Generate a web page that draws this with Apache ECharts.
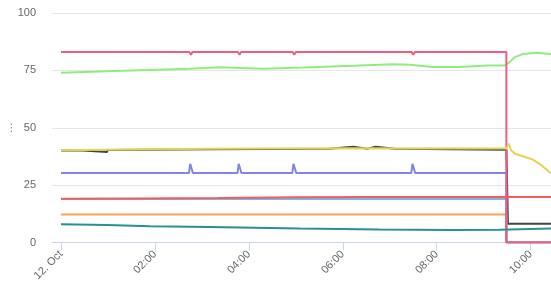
<!DOCTYPE html>
<html>
<head>
<meta charset="utf-8">
<script src="https://cdn.jsdelivr.net/npm/echarts@6/dist/echarts.min.js"></script>
<style>
html,body{margin:0;padding:0;background:#fff;}
#chart{width:551px;height:296px;}
</style>
</head>
<body>
<div id="chart"></div>
<script>
// x values are minutes after 12. Oct 00:00
var tickMinutes = [0, 120, 240, 360, 480, 600];
var yTicks = [0, 25, 50, 75, 100];

var lightBlue = [[0,19.0],[569,19.0],[569,0],[626,0]];
var dark = [[0,40.05],[28,40.1],[28,39.4],[59,39.4],[59,40.3],[190,40.6],[343,40.9],[343.5,41.7],[373,41.7],[373.5,40.9],[392,40.9],[392.5,41.7],[402,41.7],[402.5,40.9],[426,40.9],[426.5,40.4],[569,40.4],[571,8.2],[626,8.2]];
var green = [[0,74.0],[59,74.6],[101,75.1],[165,75.7],[203,76.4],[258,75.7],[309,76.2],[373,77.0],[424,77.7],[446,77.5],[475,76.5],[509,76.5],[544,77.1],[567,77.1],[573,78.6],[580,80.8],[589,82.0],[600,82.5],[608,82.7],[618,82.4],[626,82.1]];
var orange = [[0,12.2],[164,12.2],[166,12.8],[168,12.2],[226,12.2],[228,12.8],[230,12.2],[296,12.2],[298,12.8],[300,12.2],[569,12.2],[569,0],[626,0]];
var purple = [[0,30.3],[163.5,30.3],[165,34.3],[167,34.3],[168.5,30.3],[225.5,30.3],[227,34.3],[229,34.3],[230.5,30.3],[295.5,30.3],[297,34.3],[299,34.3],[300.5,30.3],[447.5,30.3],[449,34.3],[451,34.3],[452.5,30.3],[569,30.3],[569,0],[626,0]];
var pink = [[0,83.0],[164,83.0],[166,81.8],[168,83.0],[226,83.0],[228,81.8],[230,83.0],[296,83.0],[298,81.8],[300,83.0],[448,83.0],[450,81.8],[452,83.0],[569,83.0],[569,0],[626,0]];
var yellow = [[0,40.2],[90,40.5],[190,40.8],[350,41.1],[569,41.0],[572,43.1],[575,40.2],[580,38.7],[590,37.6],[603,36.1],[614,33.6],[624,30.7],[626,30.4]];
var teal = [[0,7.9],[59,7.6],[114,7.1],[190,6.7],[305,6.1],[407,5.7],[497,5.4],[560,5.6],[626,6.1]];
var red = [[0,19.1],[100,19.2],[200,19.4],[300,19.7],[400,19.8],[626,19.8]];

var seriesList = [
  {data: lightBlue, color: '#7cb5ec'},
  {data: dark, color: '#434348'},
  {data: green, color: '#90ed7d'},
  {data: orange, color: '#f7a35c'},
  {data: purple, color: '#8085e9'},
  {data: pink, color: '#f15c80'},
  {data: yellow, color: '#e4d354'},
  {data: teal, color: '#2b908f'},
  {data: red, color: '#f45b5b'}
];

function pad(n){ return (n < 10 ? '0' : '') + n; }

var chart = echarts.init(document.getElementById('chart'), null, {renderer: 'canvas'});
chart.setOption({
  animation: false,
  textStyle: {fontFamily: 'Liberation Sans, Arial, sans-serif'},
  grid: {left: 52, right: 0, top: 13, bottom: 53.5, containLabel: false, outerBoundsMode: 'none'},
  xAxis: {
    type: 'value',
    min: -11.5,
    max: 626,
    axisLine: {show: true, onZero: false, lineStyle: {color: '#ccd6eb', width: 1}},
    axisTick: {show: true, customValues: tickMinutes, length: 8, lineStyle: {color: '#ccd6eb'}},
    axisLabel: {
      customValues: tickMinutes,
      rotate: 45,
      margin: 10,
      color: '#666666',
      fontSize: 11,
      formatter: function(v){
        if (v === 0) return '12. Oct';
        return pad(Math.floor(v / 60)) + ':' + pad(v % 60);
      }
    },
    splitLine: {show: false}
  },
  yAxis: {
    type: 'value',
    min: 0,
    max: 100,
    interval: 25,
    name: '\u2026',
    nameLocation: 'middle',
    nameRotate: 90,
    nameGap: 38,
    nameMoveOverlap: false,
    nameTextStyle: {color: '#666666', fontSize: 11},
    axisLine: {show: false},
    axisTick: {show: false},
    axisLabel: {color: '#666666', fontSize: 11, margin: 16},
    splitLine: {lineStyle: {color: '#e6e6e6', width: 1}}
  },
  series: seriesList.map(function(s){
    return {
      type: 'line',
      data: s.data,
      showSymbol: false,
      symbol: 'none',
      color: s.color,
      lineStyle: {width: 2, color: s.color},
      emphasis: {disabled: true}
    };
  })
});
</script>
</body>
</html>
